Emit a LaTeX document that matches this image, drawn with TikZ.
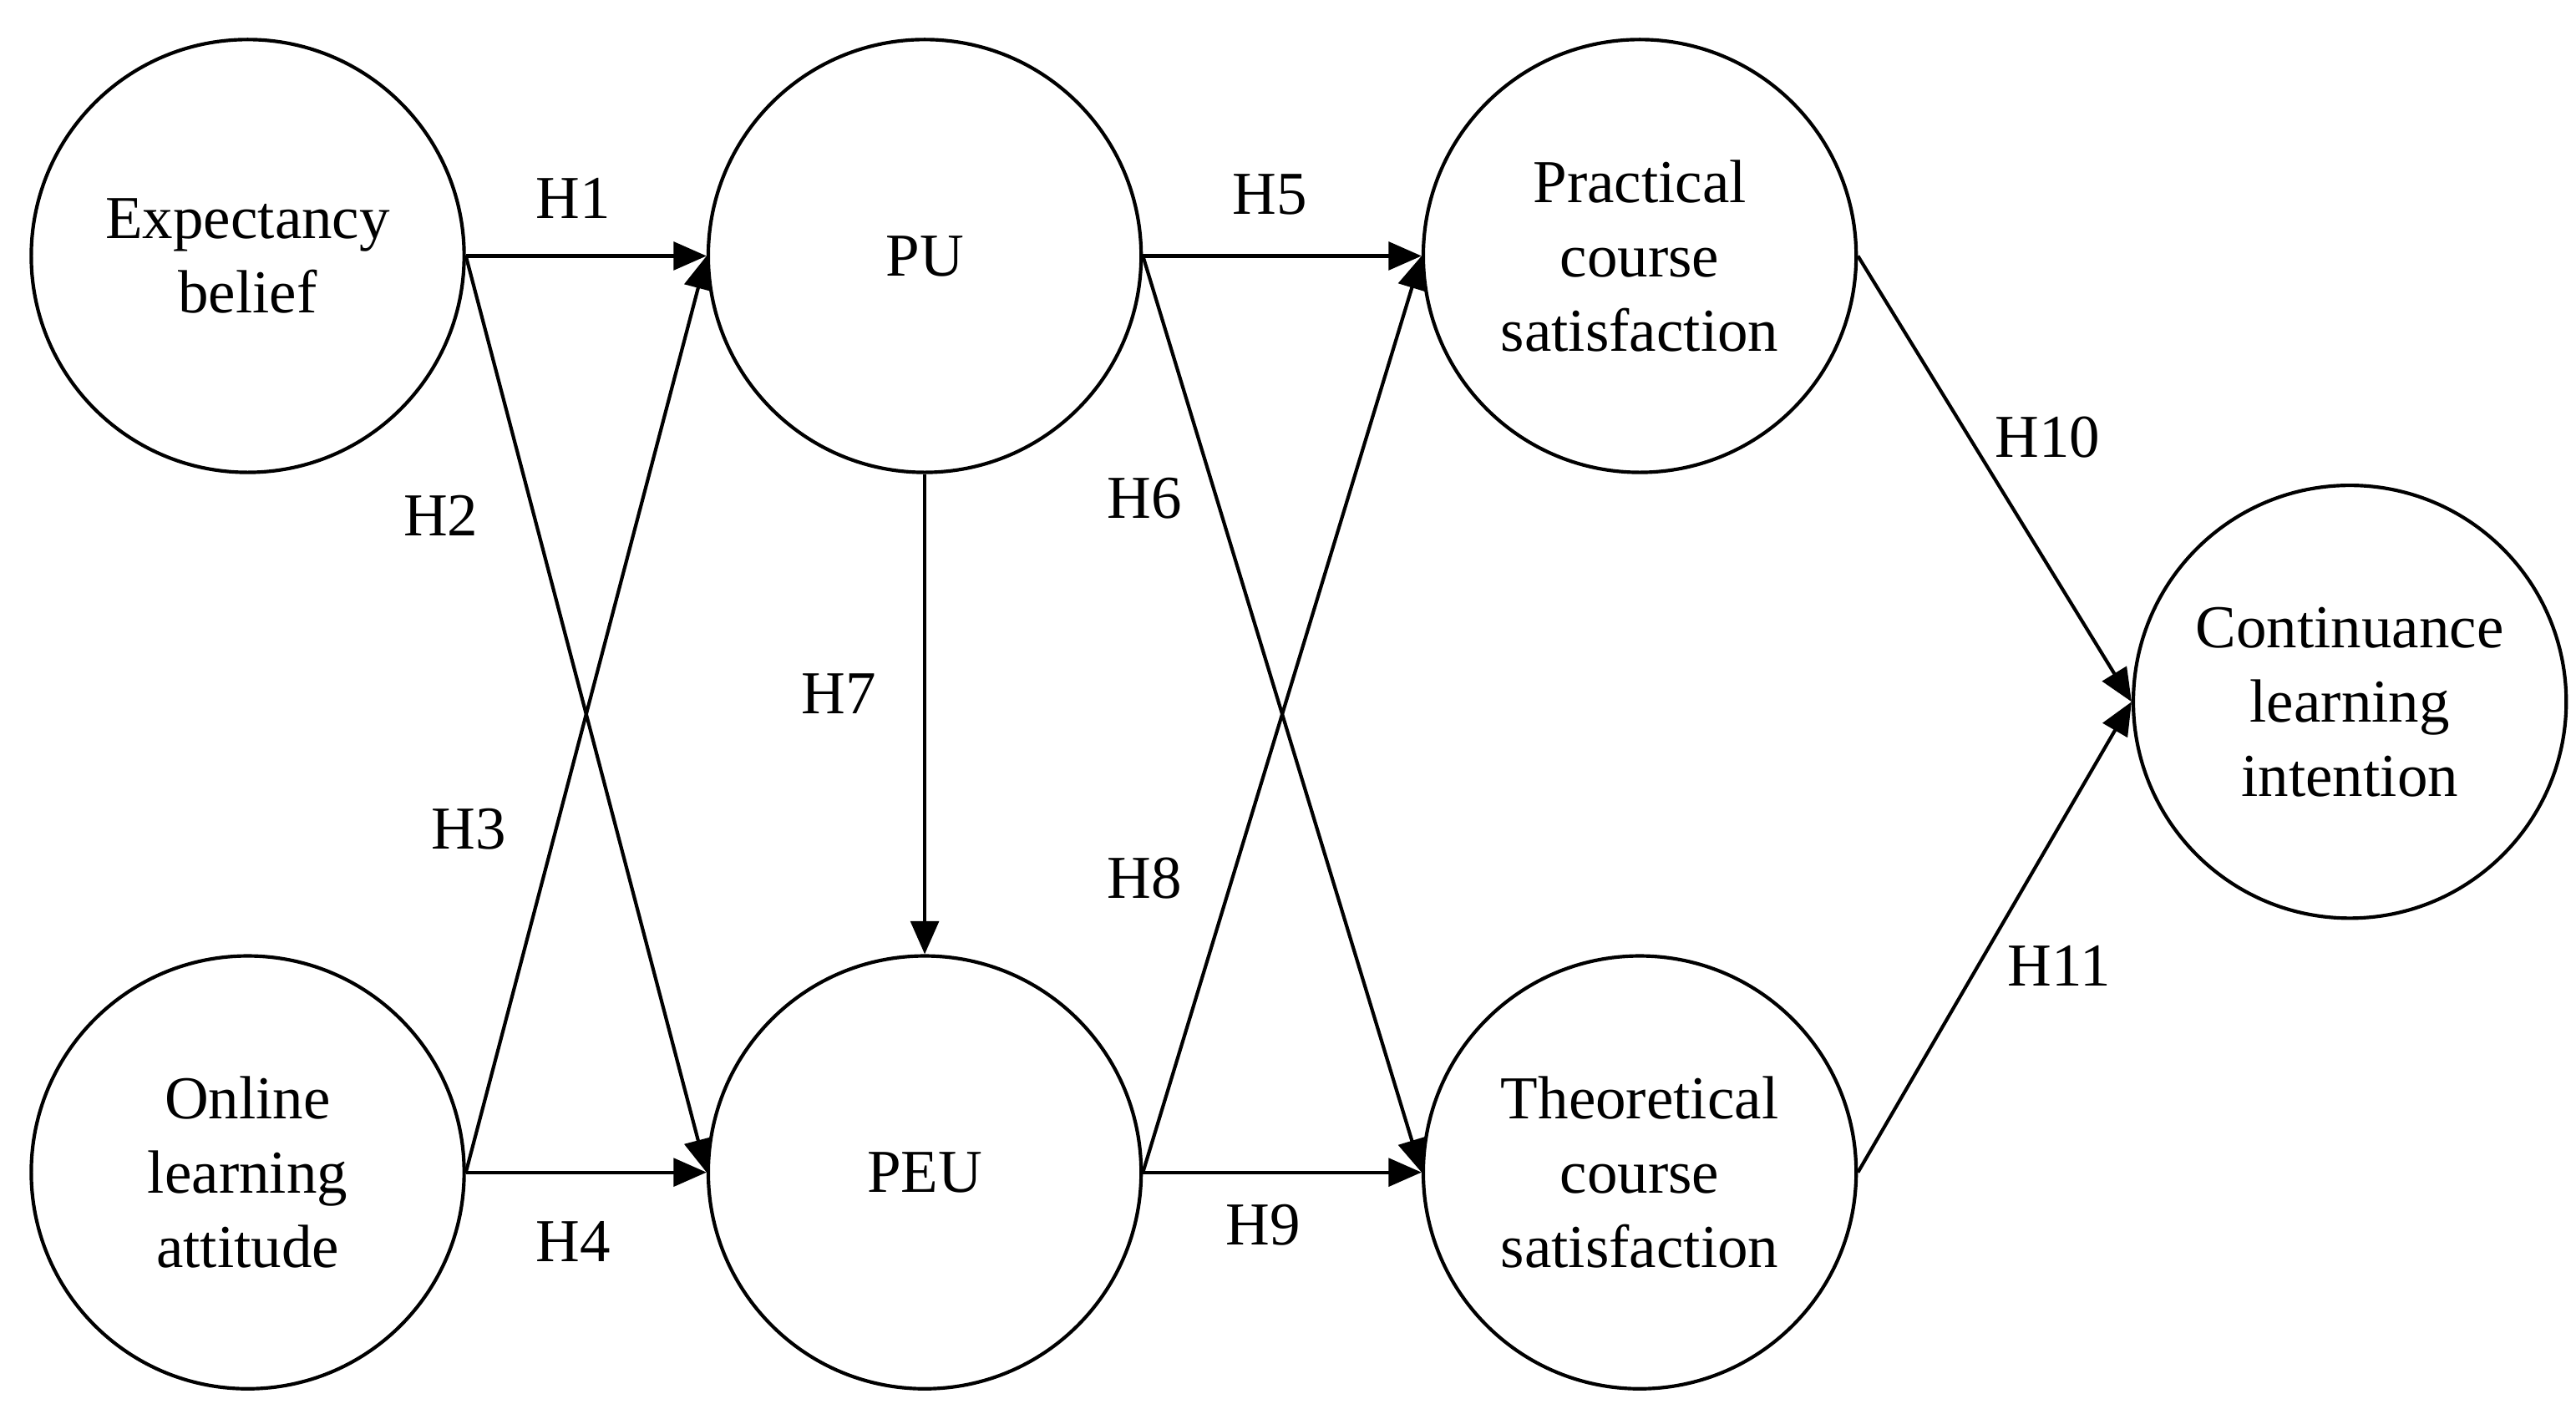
\documentclass[tikz,border=0pt]{standalone}
\usepackage{fontspec}
\setmainfont{Liberation Serif}
\usetikzlibrary{arrows.meta}
\begin{document}
\begin{tikzpicture}[x=0.01cm,y=-0.01cm,
  c/.style={circle,draw,line width=0.6pt,minimum size=2.62cm,inner sep=0pt,align=center,font=\fontsize{10.5}{12.8}\selectfont},
  a/.style={line width=0.6pt,-{Triangle[length=2mm,width=1.7mm]}},
  l/.style={font=\fontsize{10.5}{12.8}\selectfont}]
\useasboundingbox (0,0) rectangle (1560,853);
\node[c] (eb) at (150,155) {Expectancy\\belief};
\node[c] (pu) at (560,155) {PU};
\node[c] (pc) at (993,155) {Practical\\course\\satisfaction};
\node[c] (ol) at (150,710) {Online\\learning\\attitude};
\node[c] (peu) at (560,710) {PEU};
\node[c] (tc) at (993,710) {Theoretical\\course\\satisfaction};
\node[c] (ci) at (1423,425) {Continuance\\learning\\intention};
\draw[a] (eb.east) -- (pu.west);
\draw[a] (eb.east) -- (peu.west);
\draw[a] (ol.east) -- (pu.west);
\draw[a] (ol.east) -- (peu.west);
\draw[a] (pu.south) -- (peu.north);
\draw[a] (pu.east) -- (pc.west);
\draw[a] (pu.east) -- (tc.west);
\draw[a] (peu.east) -- (pc.west);
\draw[a] (peu.east) -- (tc.west);
\draw[a] (pc.east) -- (ci.west);
\draw[a] (tc.east) -- (ci.west);
\node[l] (h1) at (347,120) {H1};
\node[l] (h2) at (267,312) {H2};
\node[l] (h3) at (284,502) {H3};
\node[l] (h4) at (347,752) {H4};
\node[l] (h5) at (769,118) {H5};
\node[l] (h6) at (693,302) {H6};
\node[l] (h7) at (508,420) {H7};
\node[l] (h8) at (693,532) {H8};
\node[l] (h9) at (765,742) {H9};
\node[l] (h10) at (1240,265) {H10};
\node[l] (h11) at (1247,585) {H11};
\end{tikzpicture}
\end{document}
